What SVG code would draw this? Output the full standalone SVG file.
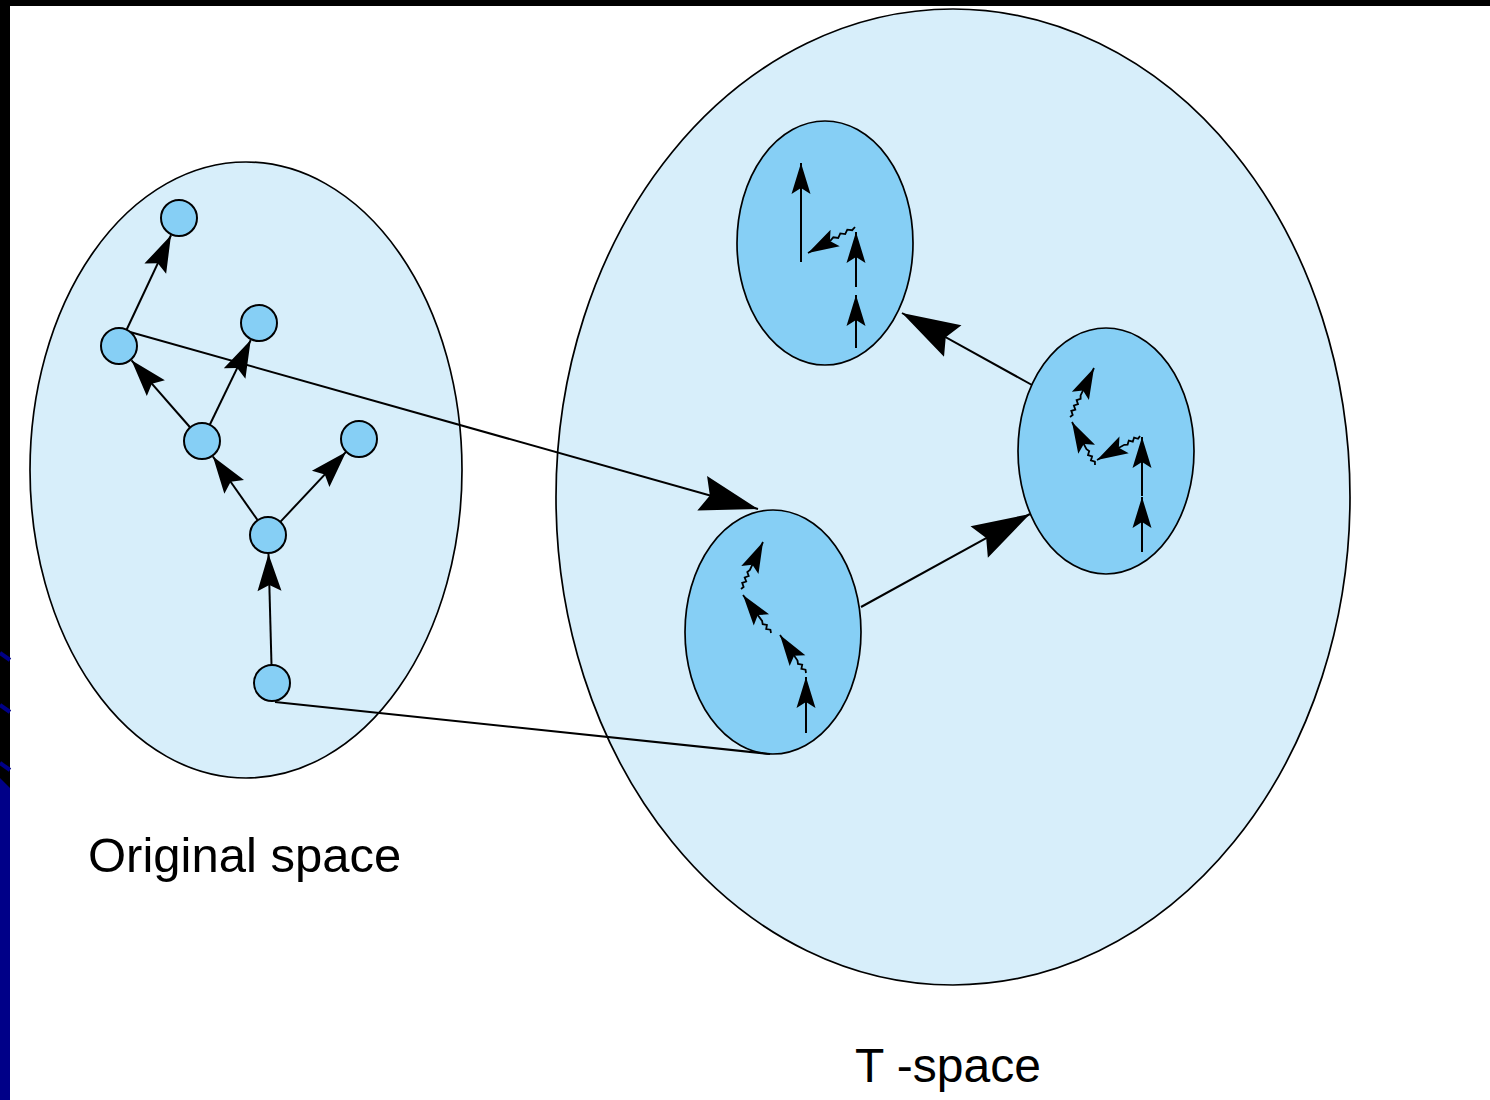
<svg xmlns="http://www.w3.org/2000/svg" width="1490" height="1100" viewBox="0 0 1490 1100">
<style>
.space{fill:#d7eefa;stroke:#000;stroke-width:1.7}
.cluster{fill:#86cff5;stroke:#000;stroke-width:1.7}
.node{fill:#86cff5;stroke:#000;stroke-width:2}
.e{fill:none;stroke:#000;stroke-width:2}
.w{fill:none;stroke:#000;stroke-width:1.8;stroke-linejoin:miter}
.lbl{font-family:"Liberation Sans",Arial,sans-serif;fill:#000}
</style>
<defs>
<marker id="big" viewBox="-60 -20 62 40" markerWidth="62" markerHeight="40" refX="0" refY="0" orient="auto" markerUnits="userSpaceOnUse">
<path d="M0,0 L-58,-18 L-50,0 L-58,18 Z" fill="#000"/>
</marker>
<marker id="med" viewBox="-40 -14 42 28" markerWidth="42" markerHeight="28" refX="0" refY="0" orient="auto" markerUnits="userSpaceOnUse">
<path d="M0,0 L-37,-12 L-31,0 L-37,12 Z" fill="#000"/>
</marker>
<marker id="sm" viewBox="-34 -11 36 22" markerWidth="36" markerHeight="22" refX="0" refY="0" orient="auto" markerUnits="userSpaceOnUse">
<path d="M0,0 L-31,-9.5 L-25,0 L-31,9.5 Z" fill="#000"/>
</marker>
</defs>
<rect x="0" y="0" width="1490" height="1100" fill="#fff"/>
<g id="frame">
<rect x="0" y="0" width="1490" height="6" fill="#000"/>
<rect x="0" y="0" width="10" height="1100" fill="#000"/>
<polygon points="0,778 10,788 10,1100 0,1100" fill="#000088"/>
<line x1="0" y1="653" x2="10" y2="660" stroke="#000088" stroke-width="4"/>
<line x1="0" y1="705" x2="10" y2="712" stroke="#000088" stroke-width="4"/>
<line x1="0" y1="763" x2="10" y2="770" stroke="#000088" stroke-width="4"/>
</g>
<g id="original-space"><ellipse class="space" cx="246" cy="470" rx="216" ry="308"/></g>
<g id="t-space"><ellipse class="space" cx="953" cy="497" rx="397" ry="488"/></g>
<g id="cluster-top"><ellipse class="cluster" cx="825" cy="243" rx="88" ry="122"/>
<path class="e" d="M801,262 L801,163" marker-end="url(#sm)"/>
<path class="e" d="M856,287 L856,232" marker-end="url(#sm)"/>
<path class="e" d="M856,348 L856,295" marker-end="url(#sm)"/>
<path class="w" d="M855,227 L852.2,230.2 L847.3,229.6 L845.2,234.1 L840.3,233.4 L838.2,238 L833.3,237.3 L830.5,240.6 L808,253" marker-end="url(#sm)"/>
</g>
<g id="cluster-right"><ellipse class="cluster" cx="1106" cy="451" rx="88" ry="123"/>
<path class="e" d="M1142,552 L1142,497" marker-end="url(#sm)"/>
<path class="e" d="M1142,496 L1142,437" marker-end="url(#sm)"/>
<path class="w" d="M1140,436 L1138.1,438.8 L1134.1,437.6 L1132.8,441.7 L1128.8,440.6 L1127.6,444.6 L1124.3,444.8 L1097,460" marker-end="url(#sm)"/>
<path class="w" d="M1095,465 L1094.9,461.7 L1090.9,460.4 L1092.1,456.4 L1088,455.1 L1089.2,451.1 L1086.5,449.1 L1072,422" marker-end="url(#sm)"/>
<path class="w" d="M1070,417 L1072.7,415 L1071.3,410.9 L1075.3,409.6 L1073.9,405.5 L1078,404.2 L1076.6,400.1 L1080.6,398.8 L1080.6,395.4 L1094,368" marker-end="url(#sm)"/>
</g>
<g id="cluster-bottom"><ellipse class="cluster" cx="773" cy="632" rx="88" ry="122"/>
<path class="e" d="M806,733 L806,677" marker-end="url(#sm)"/>
<path class="w" d="M806,673 L805.5,669.7 L801.4,668.9 L802.2,664.7 L798,664 L797.5,660.6 L780,635" marker-end="url(#sm)"/>
<path class="w" d="M771,633 L770.4,629.7 L766.2,629.1 L766.9,624.9 L762.7,624.2 L762.1,620.9 L743,595" marker-end="url(#sm)"/>
<path class="w" d="M741,589 L743.6,586.9 L742.2,582.9 L746.2,581.5 L744.7,577.5 L748.7,576 L747.3,572 L749.9,570 L763,542" marker-end="url(#sm)"/>
</g>
<g id="connectors">
<path class="e" d="M126.6,329.7 L171,235.2" marker-end="url(#med)"/>
<path class="e" d="M190.2,427.5 L131.5,360.3" marker-end="url(#med)"/>
<path class="e" d="M209.8,424.8 L250.7,340.1" marker-end="url(#med)"/>
<path class="e" d="M257.7,520.3 L212.9,456.5" marker-end="url(#med)"/>
<path class="e" d="M280.3,521.9 L346,451.9" marker-end="url(#med)"/>
<path class="e" d="M271.5,665 L268.5,554" marker-end="url(#med)"/>
<path class="e" d="M130,332 L758,509" marker-end="url(#big)"/>
<path class="e" d="M275,702 L770,754"/>
<path class="e" d="M861,607 L1030,514" marker-end="url(#big)"/>
<path class="e" d="M1032,385 L902,313" marker-end="url(#big)"/>
</g>
<g id="node-a"><circle class="node" cx="179" cy="218" r="18"/></g>
<g id="node-b"><circle class="node" cx="119" cy="346" r="18"/></g>
<g id="node-c"><circle class="node" cx="259" cy="323" r="18"/></g>
<g id="node-d"><circle class="node" cx="202" cy="441" r="18"/></g>
<g id="node-e"><circle class="node" cx="359" cy="439" r="18"/></g>
<g id="node-f"><circle class="node" cx="268" cy="535" r="18"/></g>
<g id="node-g"><circle class="node" cx="272" cy="683" r="18"/></g>
<text class="lbl" x="88" y="872" font-size="49">Original space</text>
<text class="lbl" x="855" y="1082" font-size="48">T -space</text>
</svg>
